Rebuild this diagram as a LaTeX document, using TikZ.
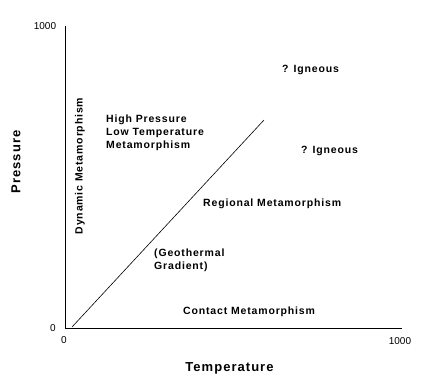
\documentclass[tikz,border=0pt]{standalone}
\usepackage{fontspec}
\setmainfont{Liberation Sans}
\newfontfamily\lblfont[LetterSpace=8]{Liberation Sans Bold}
\newfontfamily\axfont[LetterSpace=8]{Liberation Sans Bold}
\newfontfamily\numfont{Liberation Sans}
\begin{document}
\begin{tikzpicture}[x=1pt,y=-1pt,
  lbl/.style={inner sep=0pt,anchor=west,font=\lblfont\fontsize{10.5}{13}\selectfont,align=left},
  axlbl/.style={inner sep=0pt,font=\axfont\fontsize{13}{15}\selectfont},
  num/.style={inner sep=0pt,font=\numfont\fontsize{10}{12}\selectfont},
  axis/.style={line width=1pt,line cap=rect},
  grad/.style={line width=0.6pt}]
\useasboundingbox (0,0) rectangle (429,380);
\coordinate (ytop) at (65,26);
\coordinate (orig) at (65,328);
\coordinate (xend) at (401,328);
\coordinate (gs) at (72,327);
\coordinate (ge) at (264,120);
\draw[axis] (ytop) -- (orig) -- (xend);
\draw[grad] (gs) -- (ge);
\node[num] (y1000) at (45,26) {1000};
\node[num] (y0) at (53,328) {0};
\node[num] (x0) at (64,340) {0};
\node[num] (x1000) at (400,341) {1000};
\node[axlbl] (temp) at (229.5,368) {Temperature};
\node[axlbl,rotate=90] (pres) at (16,162) {Pressure};
\node[lbl,rotate=90,anchor=center] (dyn) at (80,166) {Dynamic Metamorphism};
\node[lbl] (hp) at (106,133) {High Pressure\\Low Temperature\\Metamorphism};
\node[lbl] (ig1) at (282,69.5) {? Igneous};
\node[lbl] (ig2) at (301,150.5) {? Igneous};
\node[lbl] (reg) at (203,204) {Regional Metamorphism};
\node[lbl] (geo) at (154,260) {(Geothermal\\Gradient)};
\node[lbl] (con) at (183,311.5) {Contact Metamorphism};
\end{tikzpicture}
\end{document}
